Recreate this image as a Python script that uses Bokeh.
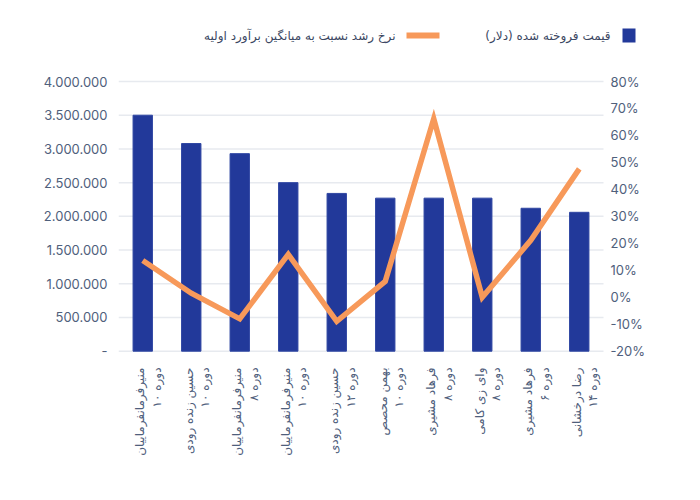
import math
from bokeh.plotting import figure
from bokeh.models import LinearAxis, Range1d, FixedTicker, Label, BoxAnnotation
from bokeh.embed import file_html
from bokeh.resources import INLINE

# ---------------- data ----------------
artists = ["منیرفرمانفرماییان", "حسین زنده رودی", "منیرفرمانفرماییان", "منیرفرمانفرماییان",
           "حسین زنده رودی", "بهمن محصص", "فرهاد مشیری", "وای زی کامی", "فرهاد مشیری", "رضا درخشانی"]
periods = ["دوره ۱۰", "دوره ۱۰", "دوره ۸", "دوره ۱۰", "دوره ۱۲",
           "دوره ۱۰", "دوره ۸", "دوره ۸", "دوره ۶", "دوره ۱۴"]
prices = [3500000, 3080000, 2930000, 2500000, 2340000, 2270000, 2270000, 2270000, 2120000, 2060000]
growth = [13.6, 1.5, -8.0, 15.9, -8.9, 5.9, 66.2, 0.0, 21.1, 47.6]

price_ticks = [0, 500000, 1000000, 1500000, 2000000, 2500000, 3000000, 3500000, 4000000]
price_tick_labels = ["-", "500.000", "1.000.000", "1.500.000", "2.000.000",
                     "2.500.000", "3.000.000", "3.500.000", "4.000.000"]
growth_ticks = [-20, -10, 0, 10, 20, 30, 40, 50, 60, 70, 80]
growth_tick_labels = ["-20%", "-10%", "0%", "10%", "20%", "30%", "40%", "50%", "60%", "70%", "80%"]

legend_price = "قیمت فروخته شده (دلار)\u200f"
legend_growth = "نرخ رشد نسبت به میانگین برآورد اولیه"

# ---------------- styles ----------------
BAR = "#22399a"
ORANGE = "#f7995a"
TICK = "#4f607c"
GRID = "#e7eaef"
NUMFONT = "Inter"
FAFONT = "DejaVu Sans"

# layout (canvas px). The plotting area (axes) spans x 118..603, y 81..350.7.
# The frame is made larger (y 20..362, right to x=650) so that the RTL legend
# row and the pinned right axis labels are drawn inside it.
FIG_W, FIG_H = 684, 484
AX_L, AX_R, AX_TOP, AX_BOT = 118.0, 603.0, 81.0, 350.7
FR_R, FR_TOP, FR_BOT = 650.0, 20.0, 362.0
n = len(prices)
ax_h = AX_BOT - AX_TOP
ext_top = (AX_BOT - FR_TOP) / ax_h
ext_bot = (FR_BOT - AX_BOT) / ax_h
ext_x = (FR_R - AX_L) / (AX_R - AX_L)
p_lo, p_hi = price_ticks[0], price_ticks[-1]
g_lo, g_hi = growth_ticks[0], growth_ticks[-1]
x_lo, x_hi = -0.5, n - 0.5

xs = list(range(n))

p = figure(width=FIG_W, height=FIG_H, output_backend="svg", toolbar_location=None,
           x_range=Range1d(x_lo, x_lo + (x_hi - x_lo) * ext_x),
           y_range=Range1d(p_lo - (p_hi - p_lo) * ext_bot, p_lo + (p_hi - p_lo) * ext_top),
           min_border_left=int(AX_L), min_border_right=int(FIG_W - FR_R),
           min_border_top=int(FR_TOP), min_border_bottom=int(FIG_H - FR_BOT))
p.outline_line_color = None
p.background_fill_color = "white"
p.border_fill_color = "white"

p.extra_y_ranges = {"growth": Range1d(g_lo - (g_hi - g_lo) * ext_bot,
                                      g_lo + (g_hi - g_lo) * ext_top)}

# horizontal grid lines at the price ticks, spanning the plotting area only
p.xgrid.visible = False
p.ygrid.visible = False
p.segment(x0=[x_lo] * len(price_ticks), x1=[x_hi] * len(price_ticks),
          y0=price_ticks, y1=price_ticks, line_color=GRID, line_width=1.5)

p.vbar(x=xs, top=prices, width=0.4, bottom=0, fill_color=BAR, line_color="#3047a3", line_width=1)
p.line(x=xs, y=growth, y_range_name="growth", line_color=ORANGE, line_width=5.5, line_join="miter")

# left axis
ya = p.yaxis[0]
ya.ticker = FixedTicker(ticks=price_ticks)
ya.major_label_overrides = {t: l for t, l in zip(price_ticks, price_tick_labels)}
ya.axis_line_color = None
ya.major_tick_line_color = None
ya.minor_tick_line_color = None
ya.major_tick_in = 0
ya.major_tick_out = 0
ya.major_label_standoff = 11
ya.major_label_text_font = NUMFONT
ya.major_label_text_font_size = "13px"
ya.major_label_text_color = TICK

# right axis pinned at the right edge of the plotting area
ra = LinearAxis(y_range_name="growth", ticker=FixedTicker(ticks=growth_ticks),
                fixed_location=x_hi)
ra.major_label_overrides = {t: l for t, l in zip(growth_ticks, growth_tick_labels)}
ra.axis_line_color = None
ra.major_tick_line_color = None
ra.minor_tick_line_color = None
ra.major_tick_in = 0
ra.major_tick_out = 0
ra.major_label_standoff = 7
ra.major_label_text_font = NUMFONT
ra.major_label_text_font_size = "13px"
ra.major_label_text_color = TICK
p.add_layout(ra, "right")

# bottom axis (label block nudged to sit centred under each bar)
label_pos = [round(i + 0.12, 2) for i in xs]
xa = p.xaxis[0]
xa.ticker = FixedTicker(ticks=label_pos)
xa.major_label_overrides = {t: f"{a}\n{b}" for t, a, b in zip(label_pos, artists, periods)}
xa.major_label_orientation = math.pi / 2
xa.axis_line_color = None
xa.major_tick_line_color = None
xa.minor_tick_line_color = None
xa.major_tick_in = 0
xa.major_tick_out = 0
xa.major_label_standoff = 5
xa.major_label_text_font = FAFONT
xa.major_label_text_font_size = "12px"
xa.major_label_text_color = TICK

# legend (RTL style, canvas units)
p.add_layout(BoxAnnotation(left=622, right=635, bottom=42, top=28, level="overlay",
                           left_units="canvas", right_units="canvas",
                           bottom_units="canvas", top_units="canvas",
                           fill_color=BAR, fill_alpha=1, line_color=None))
p.add_layout(Label(x=610, y=35, x_units="canvas", y_units="canvas", text=legend_price,
                   level="overlay",
                   text_align="right", text_baseline="middle", text_font=FAFONT,
                   text_font_size="12px", text_color="#3b4762"))
p.add_layout(BoxAnnotation(left=406, right=439, bottom=38, top=32, level="overlay",
                           left_units="canvas", right_units="canvas",
                           bottom_units="canvas", top_units="canvas",
                           fill_color=ORANGE, fill_alpha=1, line_color=None))
p.add_layout(Label(x=395, y=35, x_units="canvas", y_units="canvas", text=legend_growth,
                   level="overlay",
                   text_align="right", text_baseline="middle", text_font=FAFONT,
                   text_font_size="12px", text_color="#3b4762"))

open("out.html", "w").write(file_html(p, INLINE))
